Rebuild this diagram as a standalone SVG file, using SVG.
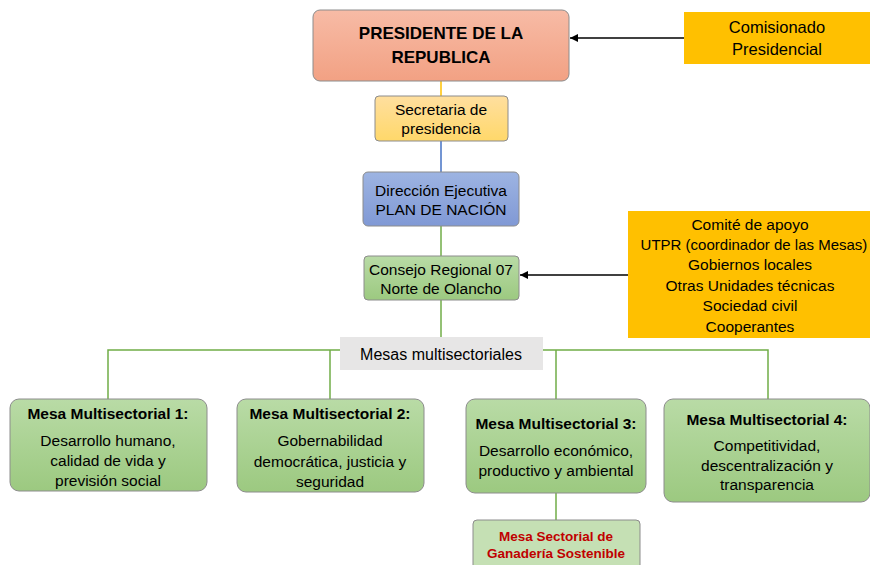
<svg xmlns="http://www.w3.org/2000/svg" width="870" height="565" viewBox="0 0 870 565">
<defs>
<linearGradient id="gPres" x1="0" y1="0" x2="0" y2="1"><stop offset="0" stop-color="#f7bba6"/><stop offset="1" stop-color="#f2a183"/></linearGradient>
<linearGradient id="gSec" x1="0" y1="0" x2="0" y2="1"><stop offset="0" stop-color="#ffdf9f"/><stop offset="1" stop-color="#ffd86a"/></linearGradient>
<linearGradient id="gDir" x1="0" y1="0" x2="0" y2="1"><stop offset="0" stop-color="#9db4e2"/><stop offset="1" stop-color="#8099d5"/></linearGradient>
<linearGradient id="gGreen" x1="0" y1="0" x2="0" y2="1"><stop offset="0" stop-color="#b9dba6"/><stop offset="1" stop-color="#9cc980"/></linearGradient>
<marker id="arr" viewBox="0 0 10 10" refX="10" refY="5" markerWidth="8" markerHeight="8" orient="auto" markerUnits="userSpaceOnUse"><path d="M0,0 L10,5 L0,10 Z" fill="#000"/></marker>
<style>
text{font-family:"Liberation Sans",Arial,sans-serif;fill:#000;text-anchor:middle;dominant-baseline:central}
.t{font-size:15.5px}
.b{font-weight:bold;font-size:15.5px}
.node{stroke:#8c8c8c;stroke-width:1}
.gl{stroke:#70ad47;stroke-width:1.5;fill:none}
.ar{stroke:#000;stroke-width:1.5;fill:none}
</style>
</defs>
<g id="connectors">
<line x1="441" y1="81" x2="441" y2="96" stroke="#ffc000" stroke-width="1.5"/>
<line x1="441" y1="141" x2="441" y2="172" stroke="#4472c4" stroke-width="1.5"/>
<line class="gl" x1="441" y1="226" x2="441" y2="256"/>
<line class="gl" x1="441" y1="300" x2="441" y2="337"/>
<polyline class="gl" points="108,399 108,350 340,350"/>
<line class="gl" x1="330" y1="350" x2="330" y2="399"/>
<polyline class="gl" points="543,350 768,350 768,399"/>
<line class="gl" x1="556" y1="350" x2="556" y2="399"/>
<line class="gl" x1="556" y1="493" x2="556" y2="520"/>
<line class="ar" x1="684" y1="38" x2="570" y2="38" marker-end="url(#arr)"/>
<line class="ar" x1="628" y1="275" x2="520" y2="275" marker-end="url(#arr)"/>
</g>
<g id="presidente">
<rect class="node" x="313" y="10" width="256" height="71" rx="7" fill="url(#gPres)"/>
<text x="441" y="33" style="font-weight:bold;font-size:17px">PRESIDENTE DE LA</text>
<text x="441" y="57" style="font-weight:bold;font-size:17px">REPUBLICA</text>
</g>
<g id="comisionado">
<rect x="684" y="12" width="186" height="52" fill="#ffc000"/>
<text x="777" y="27" style="font-size:16.5px">Comisionado</text>
<text x="777" y="49" style="font-size:16.5px">Presidencial</text>
</g>
<g id="secretaria">
<rect class="node" x="375" y="96" width="133" height="45" rx="4" fill="url(#gSec)"/>
<text class="t" x="441" y="109">Secretaria de</text>
<text class="t" x="441" y="128">presidencia</text>
</g>
<g id="direccion">
<rect class="node" x="363" y="172" width="156" height="54" rx="5" fill="url(#gDir)"/>
<text class="t" x="441" y="190">Dirección Ejecutiva</text>
<text class="t" x="441" y="209">PLAN DE NACIÓN</text>
</g>
<g id="consejo">
<rect class="node" x="364" y="256" width="155" height="44" rx="4" fill="url(#gGreen)"/>
<text class="t" x="441" y="269">Consejo Regional 07</text>
<text class="t" x="441" y="288">Norte de Olancho</text>
</g>
<g id="apoyo">
<rect x="628" y="211" width="242" height="127" fill="#ffc000"/>
<text class="t" x="750" y="224">Comité de apoyo</text>
<text class="t" x="754" y="244" style="font-size:15px">UTPR (coordinador de las Mesas)</text>
<text class="t" x="750" y="264">Gobiernos locales</text>
<text class="t" x="750" y="285">Otras Unidades técnicas</text>
<text class="t" x="750" y="305">Sociedad civil</text>
<text class="t" x="750" y="326">Cooperantes</text>
</g>
<g id="mesas-label">
<rect x="340" y="337" width="203" height="33" fill="#e7e6e6"/>
<text x="441" y="354" style="font-size:16px">Mesas multisectoriales</text>
</g>
<g id="mesa1">
<rect class="node" x="10" y="399" width="197" height="92" rx="9" fill="url(#gGreen)"/>
<text class="b" x="108" y="413">Mesa Multisectorial 1:</text>
<text class="t" x="108" y="440">Desarrollo humano,</text>
<text class="t" x="108" y="460">calidad de vida y</text>
<text class="t" x="108" y="480">previsión social</text>
</g>
<g id="mesa2">
<rect class="node" x="237" y="399" width="187" height="93" rx="9" fill="url(#gGreen)"/>
<text class="b" x="330" y="413">Mesa Multisectorial  2:</text>
<text class="t" x="330" y="440">Gobernabilidad</text>
<text class="t" x="330" y="461">democrática, justicia y</text>
<text class="t" x="330" y="481">seguridad</text>
</g>
<g id="mesa3">
<rect class="node" x="466" y="399" width="180" height="94" rx="9" fill="url(#gGreen)"/>
<text class="b" x="556" y="423">Mesa Multisectorial 3:</text>
<text class="t" x="556" y="450">Desarrollo económico,</text>
<text class="t" x="556" y="470">productivo y ambiental</text>
</g>
<g id="mesa4">
<rect class="node" x="664" y="399" width="206" height="103" rx="9" fill="url(#gGreen)"/>
<text class="b" x="767" y="419">Mesa Multisectorial 4:</text>
<text class="t" x="767" y="445">Competitividad,</text>
<text class="t" x="767" y="465">descentralización y</text>
<text class="t" x="767" y="484">transparencia</text>
</g>
<g id="ganaderia">
<rect class="node" x="473" y="520" width="167" height="50" rx="4" fill="#c5e0b4"/>
<text x="556" y="536" style="font-weight:bold;font-size:13.5px;fill:#c00000">Mesa Sectorial de</text>
<text x="556" y="553" style="font-weight:bold;font-size:13.5px;fill:#c00000">Ganadería Sostenible</text>
</g>
</svg>
